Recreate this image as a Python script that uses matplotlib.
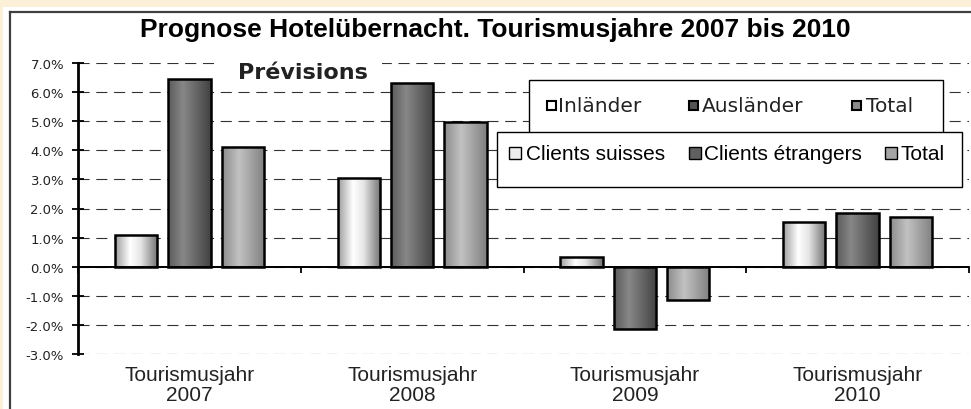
import numpy as np
import matplotlib
matplotlib.use("Agg")
import matplotlib.pyplot as plt
import matplotlib.transforms as mtransforms
from matplotlib.patches import Rectangle
from matplotlib.lines import Line2D

# Daten
years = ["2007", "2008", "2009", "2010"]
inlaender = [1.1, 3.05, 0.35, 1.55]
auslaender = [6.45, 6.3, -2.15, 1.85]
total = [4.12, 4.97, -1.13, 1.72]
labels_de = ["Inländer", "Ausländer", "Total"]
labels_fr = ["Clients suisses", "Clients étrangers", "Total"]
yticks = [-3, -2, -1, 0, 1, 2, 3, 4, 5, 6, 7]

W, H = 971, 410
fig = plt.figure(figsize=(W / 100, H / 100), dpi=100, facecolor="white")


def fx(px):
    return px / W


def fy(py):
    return 1 - py / H


def frect(x0, y0, x1, y1, **kw):
    # rectangle in pixel coords (top-left origin)
    r = Rectangle((fx(x0), fy(y1)), fx(x1) - fx(x0), fy(y0) - fy(y1),
                  transform=fig.transFigure, **kw)
    fig.patches.append(r)
    return r


# cremefarbener Rand + Rahmen
frect(0, 0, 971, 8, facecolor="#fdf0d9", edgecolor="none", zorder=0)
frect(0, 0, 3, 410, facecolor="#fdf0d9", edgecolor="none", zorder=0)
fig.lines.append(Line2D([fx(10), fx(10)], [fy(13), fy(410)], transform=fig.transFigure,
                        color="#404040", lw=1.6))
fig.lines.append(Line2D([fx(10), fx(971)], [fy(13), fy(13)], transform=fig.transFigure,
                        color="#404040", lw=1.6))

ax = fig.add_axes([fx(78), fy(355), fx(969) - fx(78), fy(64) - fy(355)])
ax.set_facecolor("none")

x = np.arange(len(years))
off = 0.24
bw = 0.19


def shade(bars, pos, vals):
    g = np.interp(np.linspace(0, 1, 64), pos, vals)
    img = np.dstack([g, g, g])
    for b in bars:
        bx, by = b.get_xy()
        w, h = b.get_width(), b.get_height()
        im = ax.imshow(img, extent=[bx, bx + w, min(by, by + h), max(by, by + h)],
                       aspect="auto", zorder=2.5, interpolation="bilinear")
        im.set_clip_path(b)


b1 = ax.bar(x - off, inlaender, bw, facecolor="none", edgecolor="black", lw=1.8, zorder=3)
b2 = ax.bar(x, auslaender, bw, facecolor="none", edgecolor="black", lw=1.8, zorder=3)
b3 = ax.bar(x + off, total, bw, facecolor="none", edgecolor="black", lw=1.8, zorder=3)
shade(b1, [0, 0.35, 0.6, 1], [0.62, 1.0, 0.9, 0.45])
shade(b2, [0, 0.35, 1], [0.36, 0.53, 0.26])
shade(b3, [0, 0.4, 1], [0.55, 0.76, 0.5])

ax.set_xlim(-0.5, 3.5)
ax.set_ylim(-3, 7)
ax.set_yticks(yticks)
ax.set_yticklabels([f"{v:.1f}%" for v in yticks], fontfamily="DejaVu Sans",
                   fontsize=9.5, color="#222222")
ax.grid(axis="y", linestyle=(0, (10, 6)), color="#333333", lw=0.8, zorder=1)
ax.axhline(0, color="black", lw=1.3, zorder=2)

ax.spines["top"].set_visible(False)
ax.spines["right"].set_visible(False)
ax.spines["left"].set_linewidth(2.0)
ax.spines["bottom"].set_position(("data", 0))
ax.spines["bottom"].set_linewidth(1.3)
ax.set_xticks([-0.5, 0.5, 1.5, 2.5, 3.5])
ax.set_xticklabels([])
ax.tick_params(axis="x", direction="out", length=4, width=1.3)
ax.tick_params(axis="y", direction="inout", length=8, width=1.3, pad=6)

trans = mtransforms.blended_transform_factory(ax.transData, ax.transAxes)
for i, yr in enumerate(years):
    ax.annotate("Tourismusjahr\n" + yr, xy=(i, 0), xycoords=trans,
                xytext=(0, -8), textcoords="offset points", ha="center", va="top",
                fontfamily="Liberation Sans", fontsize=15, color="#222222",
                linespacing=1.05, annotation_clip=False)

# Titel
fig.text(fx(495), fy(30), "Prognose Hotelübernacht. Tourismusjahre 2007 bis 2010",
         ha="center", va="center", fontfamily="Liberation Sans", fontweight="bold",
         fontsize=19, color="black")

# Prévisions
frect(220, 58, 382, 88, facecolor="white", edgecolor="none", zorder=2)
fig.text(fx(303), fy(73), "Prévisions", ha="center", va="center",
         fontfamily="DejaVu Sans", fontweight="bold", fontsize=16, color="#222222", zorder=3)

# Legende deutsch
frect(529, 81, 943, 138, facecolor="white", edgecolor="black", lw=1.0, zorder=2)
leg1_cols = ["white", "#555555", "#8a8a8a"]
for (sx, tx), lab, c in zip([(547, 558), (689, 702), (852, 866)], labels_de, leg1_cols):
    frect(sx, 102, sx + 9, 111, facecolor=c, edgecolor="black", lw=1.5, zorder=3)
    fig.text(fx(tx), fy(107), lab, ha="left", va="center", fontfamily="DejaVu Sans",
             fontsize=14.5, color="#222222", zorder=4)

# Legende französisch
frect(497, 133, 962, 188, facecolor="white", edgecolor="black", lw=1.0, zorder=5)
leg2_cols = ["#eeeeee", "#606060", "#a5a5a5"]
for (sx, tx), lab, c in zip([(509, 526), (689, 704), (885, 900)], labels_fr, leg2_cols):
    frect(sx, 148, sx + 12, 160, facecolor=c, edgecolor="black", lw=1.0, zorder=6)
    fig.text(fx(tx), fy(155), lab, ha="left", va="center", fontfamily="Liberation Sans",
             fontsize=15, color="black", zorder=7)

fig.savefig("out.png", dpi=100)
